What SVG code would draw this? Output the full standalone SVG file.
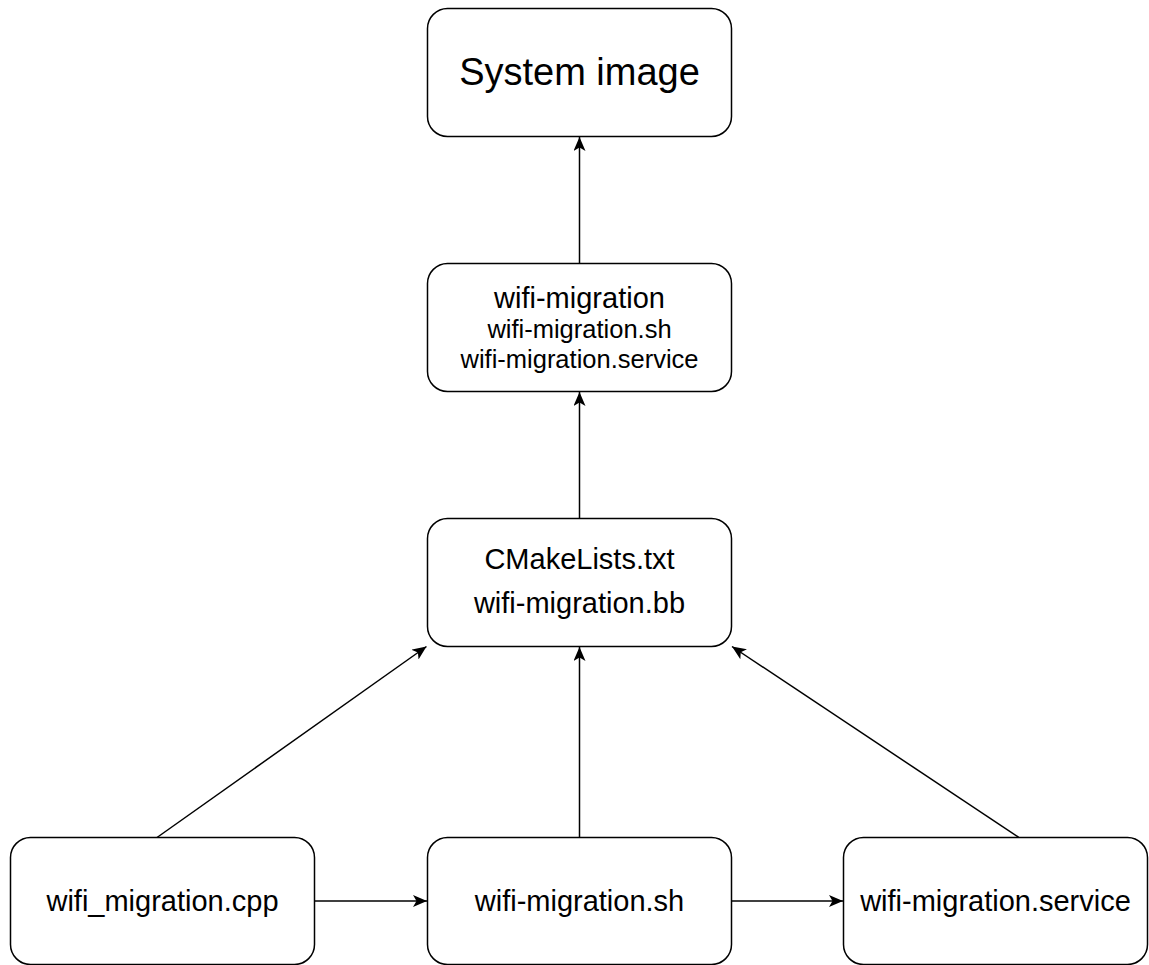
<svg xmlns="http://www.w3.org/2000/svg" width="1149" height="965" viewBox="0 0 1149 965">
<style>
.box{fill:#fff;stroke:#000;stroke-width:1.5}
.t{font-family:"Liberation Sans",Arial,sans-serif;fill:#000;text-anchor:middle}
.edge{fill:none;stroke:#000;stroke-width:1.5;marker-end:url(#arr)}
</style>
<defs>
<marker id="arr" markerUnits="userSpaceOnUse" viewBox="0 0 14 12" refX="14" refY="6" markerWidth="14" markerHeight="12" orient="auto">
<path d="M0,0 L14,6 L0,12 L3.5,6 Z" fill="#000"/>
</marker>
</defs>
<rect width="1149" height="965" fill="#fff"/>
<g id="connectors">
<path class="edge" d="M579.5,263.5 L579.5,137"/>
<path class="edge" d="M579.5,518.5 L579.5,392"/>
<path class="edge" d="M579.5,837.5 L579.5,647"/>
<path class="edge" d="M157,837.5 L426.5,646.5"/>
<path class="edge" d="M1019,837.5 L732,646.5"/>
<path class="edge" d="M314.5,901 L427,901"/>
<path class="edge" d="M731.5,901 L843,901"/>
</g>
<g id="system-image">
<rect class="box" x="427.5" y="8.5" width="304" height="128" rx="20"/>
<text class="t" x="579.5" y="85" font-size="38">System image</text>
</g>
<g id="wifi-migration">
<rect class="box" x="427.5" y="263.5" width="304" height="128" rx="20"/>
<text class="t" x="579.5" y="308" font-size="29">wifi-migration</text>
<text class="t" x="579.5" y="338" font-size="25.5">wifi-migration.sh</text>
<text class="t" x="579.5" y="368" font-size="25.5">wifi-migration.service</text>
</g>
<g id="cmake">
<rect class="box" x="427.5" y="518.5" width="304" height="128" rx="20"/>
<text class="t" x="579.5" y="569" font-size="29">CMakeLists.txt</text>
<text class="t" x="579.5" y="613" font-size="29">wifi-migration.bb</text>
</g>
<g id="cpp">
<rect class="box" x="10.5" y="837.5" width="304" height="127" rx="20"/>
<text class="t" x="162.5" y="911" font-size="29">wifi_migration.cpp</text>
</g>
<g id="sh">
<rect class="box" x="427.5" y="837.5" width="304" height="127" rx="20"/>
<text class="t" x="579.5" y="911" font-size="29">wifi-migration.sh</text>
</g>
<g id="service">
<rect class="box" x="843.5" y="837.5" width="304" height="127" rx="20"/>
<text class="t" x="995.5" y="911" font-size="29">wifi-migration.service</text>
</g>
</svg>
